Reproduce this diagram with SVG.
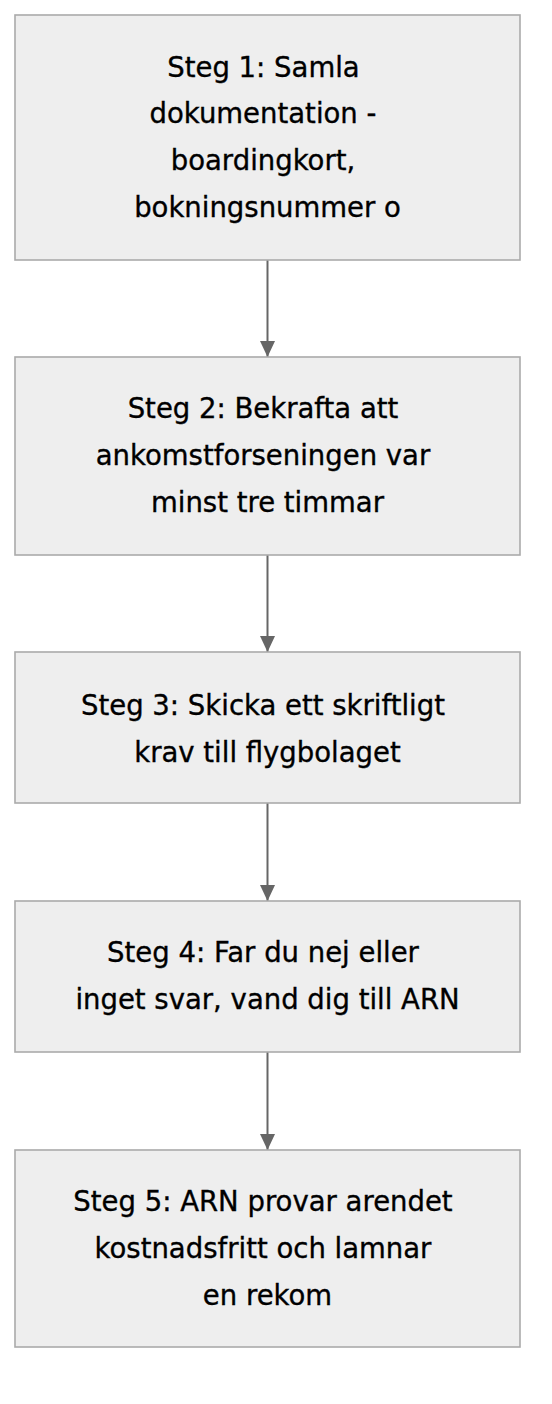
<svg xmlns="http://www.w3.org/2000/svg" width="552" height="1404" viewBox="0 0 552 1404">
<defs>
<marker id="ah" viewBox="0 0 16 15" refX="16" refY="7.5" markerWidth="16" markerHeight="15" markerUnits="userSpaceOnUse" orient="auto">
<path d="M0,0 L16,7.5 L0,15 Z" fill="#666"/>
</marker>
<style>
.box{fill:#eeeeee;stroke:#aaaaaa;stroke-width:1.6}
.lbl{font-family:"DejaVu Sans","Noto Sans",sans-serif;font-size:27.5px;fill:#000;stroke:#000;stroke-width:0.35;text-anchor:middle}
.edge{stroke:#666;stroke-width:2;fill:none}
</style>
</defs>
<rect width="552" height="1404" fill="#ffffff"/>
<g id="edges">
<line class="edge" x1="267.5" y1="260" x2="267.5" y2="357" marker-end="url(#ah)"/>
<line class="edge" x1="267.5" y1="555" x2="267.5" y2="652" marker-end="url(#ah)"/>
<line class="edge" x1="267.5" y1="803" x2="267.5" y2="901" marker-end="url(#ah)"/>
<line class="edge" x1="267.5" y1="1052" x2="267.5" y2="1150" marker-end="url(#ah)"/>
</g>
<g id="step1">
<rect class="box" x="15" y="15" width="505" height="245"/>
<text class="lbl"><tspan x="263.5" y="77">Steg 1: Samla</tspan><tspan x="263" y="123">dokumentation -</tspan><tspan x="263" y="170">boardingkort,</tspan><tspan x="267.5" y="217">bokningsnummer o</tspan></text>
</g>
<g id="step2">
<rect class="box" x="15" y="357" width="505" height="198"/>
<text class="lbl"><tspan x="263" y="418">Steg 2: Bekrafta att</tspan><tspan x="263" y="465">ankomstforseningen var</tspan><tspan x="267.5" y="512">minst tre timmar</tspan></text>
</g>
<g id="step3">
<rect class="box" x="15" y="652" width="505" height="151"/>
<text class="lbl"><tspan x="263" y="715">Steg 3: Skicka ett skriftligt</tspan><tspan x="267.5" y="762">krav till flygbolaget</tspan></text>
</g>
<g id="step4">
<rect class="box" x="15" y="901" width="505" height="151"/>
<text class="lbl"><tspan x="263" y="962">Steg 4: Far du nej eller</tspan><tspan x="267.5" y="1009">inget svar, vand dig till ARN</tspan></text>
</g>
<g id="step5">
<rect class="box" x="15" y="1150" width="505" height="197"/>
<text class="lbl"><tspan x="263" y="1211">Steg 5: ARN provar arendet</tspan><tspan x="263" y="1258">kostnadsfritt och lamnar</tspan><tspan x="267.5" y="1305">en rekom</tspan></text>
</g>
</svg>
